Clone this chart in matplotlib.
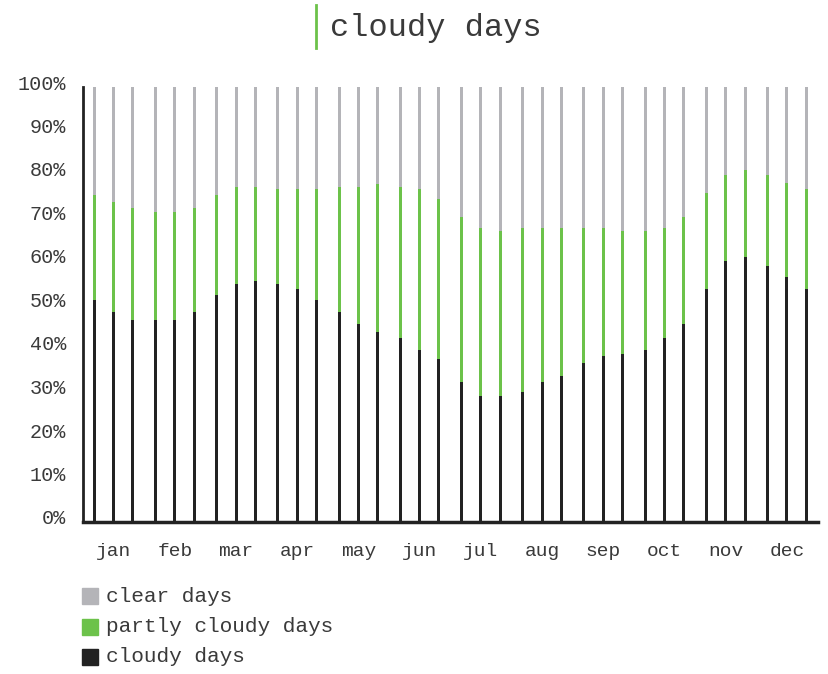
import numpy as np
import matplotlib
matplotlib.use("Agg")
import matplotlib.pyplot as plt
import matplotlib.transforms as mtransforms
from matplotlib.patches import Rectangle
from matplotlib.lines import Line2D

plt.rcParams['font.family'] = ['Liberation Mono', 'DejaVu Sans Mono']

months = ['jan', 'feb', 'mar', 'apr', 'may', 'jun',
          'jul', 'aug', 'sep', 'oct', 'nov', 'dec']

# three bars per month, share of days (%)
cloudy = [51.0, 48.3, 46.4, 46.4, 46.4, 48.3, 52.1, 54.7, 55.4,
          54.7, 53.6, 51.0, 48.3, 45.5, 43.7, 42.2, 39.5, 37.5,
          32.2, 29.0, 29.0, 30.0, 32.2, 33.6, 36.6, 38.2, 38.7,
          39.5, 42.2, 45.5, 53.6, 60.0, 60.9, 58.8, 56.4, 53.6]
cloudy_or_partly = [75.2, 73.6, 72.2, 71.3, 71.3, 72.2, 75.2, 77.1, 77.1,
                    76.6, 76.6, 76.6, 77.1, 77.1, 77.7, 77.1, 76.6, 74.3,
                    70.1, 67.7, 66.9, 67.7, 67.7, 67.7, 67.7, 67.7, 66.9,
                    66.9, 67.7, 70.1, 75.6, 79.8, 80.9, 79.8, 78.0, 76.6]

cloudy = np.array(cloudy)
partly = np.array(cloudy_or_partly) - cloudy
clear = 100 - cloudy - partly

c_clear = '#b4b4b8'
c_partly = '#6cc24a'
c_cloudy = '#222222'
txt = '#3a3a3a'

# bar positions: 3 per month, small gap between months
pos = np.array([m * 3.17 + k for m in range(12) for k in range(3)])

fig = plt.figure(figsize=(8.29, 6.74), dpi=100)
W, H = 829, 674
ax = fig.add_axes([83 / W, 1 - 522 / H, (818 - 83) / W, (522 - 87) / H])

w = 0.155
ax.bar(pos, cloudy, width=w, color=c_cloudy, lw=0, antialiased=False)
ax.bar(pos, partly, width=w, bottom=cloudy, color=c_partly, lw=0,
       antialiased=False)
ax.bar(pos, clear, width=w, bottom=cloudy + partly, color=c_clear, lw=0,
       antialiased=False)

ax.set_xlim(-0.585, pos[-1] + 0.61)
ax.set_ylim(0, 100)

for s in ['top', 'right']:
    ax.spines[s].set_visible(False)
ax.spines['left'].set_linewidth(2)
ax.spines['left'].set_color('#222222')
ax.spines['bottom'].set_linewidth(2.5)
ax.spines['bottom'].set_color('#222222')

yt = np.arange(0, 101, 10)
ax.set_yticks(yt)
ax.set_yticklabels([f'{v}%' for v in yt], fontsize=14.5, color=txt)
ax.tick_params(axis='y', length=0, pad=12)
off = mtransforms.ScaledTranslation(0, 5 / 100, fig.dpi_scale_trans)
for lab in ax.get_yticklabels():
    lab.set_transform(lab.get_transform() + off)

ax.set_xticks(pos[1::3])
ax.set_xticklabels(months, fontsize=14, color=txt)
ax.tick_params(axis='x', length=0, pad=15)

# title with green marker
fig.add_artist(Line2D([316 / W, 316 / W], [1 - 5 / H, 1 - 48 / H],
                      color=c_partly, lw=2))
fig.text(330 / W, 1 - 28 / H, 'cloudy days', fontsize=23, color=txt,
         ha='left', va='center')

# legend
legend_items = [('clear days', c_clear, 596),
                ('partly cloudy days', c_partly, 627),
                ('cloudy days', c_cloudy, 657)]
for label, col, yc in legend_items:
    fig.add_artist(Rectangle((82 / W, 1 - (yc + 8) / H), 16 / W, 16 / H,
                             color=col, transform=fig.transFigure))
    fig.text(106 / W, 1 - yc / H, label, fontsize=15.2, color=txt,
             ha='left', va='center')

fig.savefig('out.png', dpi=100)
